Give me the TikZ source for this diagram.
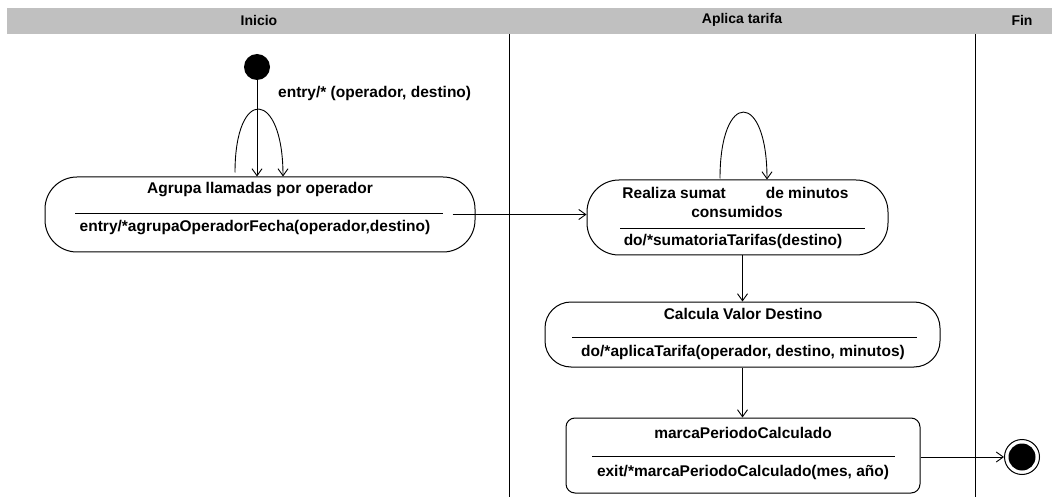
\documentclass[tikz,border=0pt]{standalone}
\usepackage{fontspec}
\setmainfont{Liberation Sans}
\usetikzlibrary{arrows.meta}
\definecolor{laneband}{HTML}{C0C0C0}
\begin{document}
\begin{tikzpicture}[x=1pt,y=-1pt,
  lbl/.style={font=\bfseries\fontsize{15.5}{17}\selectfont, inner sep=0pt},
  hdr/.style={font=\bfseries\fontsize{14}{16}\selectfont, inner sep=0pt},
  activity/.style={draw, line width=1pt, rounded corners=#1, inner sep=0pt},
  flow/.style={line width=0.9pt, -{Straight Barb[length=7pt,width=10pt,line width=0.9pt]}},
  plain/.style={line width=0.9pt}]
\useasboundingbox (0,0) rectangle (1055,497);
\fill[white] (0,0) rectangle (1055,497);

% swimlane header and separators
\fill[laneband] (7,8) rectangle (1052,34);
\node[hdr] (hInicio) at (259,20) {Inicio};
\node[hdr] (hAplica) at (742,20) {Aplica tarifa};
\node[hdr] (hFin) at (1022,20) {Fin};
\draw[plain] (509,34) -- (509,497);
\draw[plain] (975,34) -- (975,497);

% initial state
\node[circle, fill=black, minimum size=26pt, inner sep=0pt] (ini) at (257,67) {};
\node[lbl, anchor=west] (trig) at (278,93) {entry/* (operador, destino)};

% Agrupa llamadas por operador
\node[activity=32pt, minimum width=430pt, minimum height=75pt] (s1) at (260,214.5) {};
\node[lbl] (s1t) at (260,190) {Agrupa llamadas por operador};
\draw[plain] (75,213) -- (443,213);
\node[lbl] (s1e) at (255,228) {entry/*agrupaOperadorFecha(operador,destino)};

% Realiza sumatoria
\node[activity=32pt, minimum width=301pt, minimum height=75pt] (s2) at (737.5,217.5) {};
\node[lbl] (s2a) at (735.5,193) {Realiza sumat\hspace{40pt}de minutos};
\node[lbl] (s2b) at (737,212) {consumidos};
\draw[plain] (620,228) -- (865,228);
\node[lbl] (s2c) at (733,241) {do/*sumatoriaTarifas(destino)};

% Calcula Valor Destino
\node[activity=26pt, minimum width=395pt, minimum height=65pt] (s3) at (742.5,334.5) {};
\node[lbl] (s3t) at (743,314) {Calcula Valor Destino};
\draw[plain] (572,337) -- (917,337);
\node[lbl] (s3d) at (743,352) {do/*aplicaTarifa(operador, destino, minutos)};

% marcaPeriodoCalculado
\node[activity=9pt, minimum width=354pt, minimum height=75pt] (s4) at (743,455.5) {};
\node[lbl] (s4t) at (743,433) {marcaPeriodoCalculado};
\draw[plain] (592,456) -- (895,456);
\node[lbl] (s4x) at (743,472) {exit/*marcaPeriodoCalculado(mes, año)};

% final state
\node[circle, draw, line width=1pt, minimum size=35pt, inner sep=0pt] (fin) at (1022,457) {};
\node[circle, fill=black, minimum size=27pt, inner sep=0pt] (finc) at (fin.center) {};

% transitions
\draw[flow] (ini.south) -- (ini.south |- s1.north);
\draw[flow] ([xshift=-25pt,yshift=4pt]s1.north) .. controls +(0,-87) and +(0,-87) .. ([xshift=23pt]s1.north);
\draw[flow] ([xshift=-23pt]s1.east) -- (s1.east -| s2.west);
\draw[flow] ([xshift=-17.5pt,yshift=1pt]s2.north) .. controls +(0,-89) and +(0,-89) .. ([xshift=29.5pt]s2.north);
\draw[flow] (s3.north |- s2.south) -- (s3.north);
\draw[flow] (s3.south) -- (s3.south |- s4.north);
\draw[flow] (s4.east |- fin.west) -- (fin.west);
\end{tikzpicture}
\end{document}
